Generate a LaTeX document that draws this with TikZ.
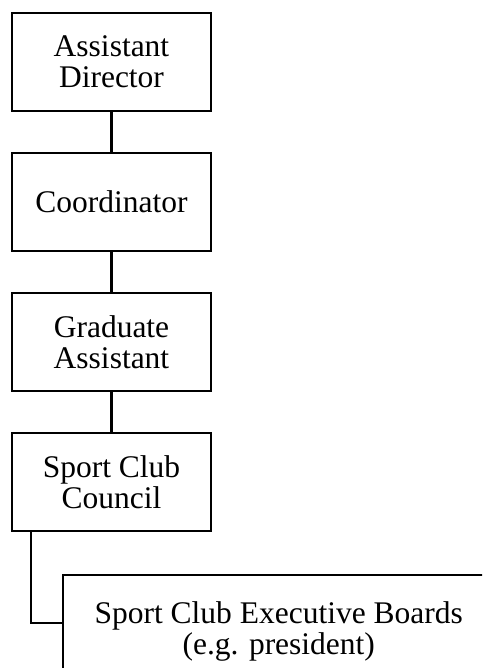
\documentclass[tikz,border=0pt]{standalone}
\usepackage{fontspec}
\setmainfont{Liberation Serif}
\usepackage{tikz}

\begin{document}
\begin{tikzpicture}[x=0.5pt,y=-0.5pt]
    \tikzstyle{post}=[draw=black,line width=1.25pt,minimum width=99.5pt,minimum height=49pt,inner sep=0pt,align=center,font=\fontsize{15.75}{15.5}\selectfont]
    \tikzstyle{wide}=[minimum width=216pt,minimum height=56.5pt,anchor=north west]
    \tikzstyle{fwd} = [draw=black, line width=1.25pt]

    \def\dy{140}
    \def\ox{111.5}
    \def\oy{62}

    \clip (0,0) rectangle (482,668);

    \node[post]  (ad) at (\ox,\oy+0*\dy) {Assistant\\Director};
    \node[post]  (co) at (\ox,\oy+1*\dy) {Coordinator};
    \node[post]  (ga) at (\ox,\oy+2*\dy) {Graduate\\Assistant};
    \node[post]  (sc) at (\ox,\oy+3*\dy) {Sport Club\\Council};

    \node[post,wide]  (eb) at (61.5,573.5) {Sport Club Executive Boards\\(e.g. president)};

   \draw [fwd] (ad) -- (co);
   \draw [fwd] (co) -- (ga);
   \draw [fwd] (ga) -- (sc);

   \draw [fwd] ([xshift=10pt]sc.south west) |- ([yshift=-24.75pt]eb.north west);

\end{tikzpicture}
\end{document}
